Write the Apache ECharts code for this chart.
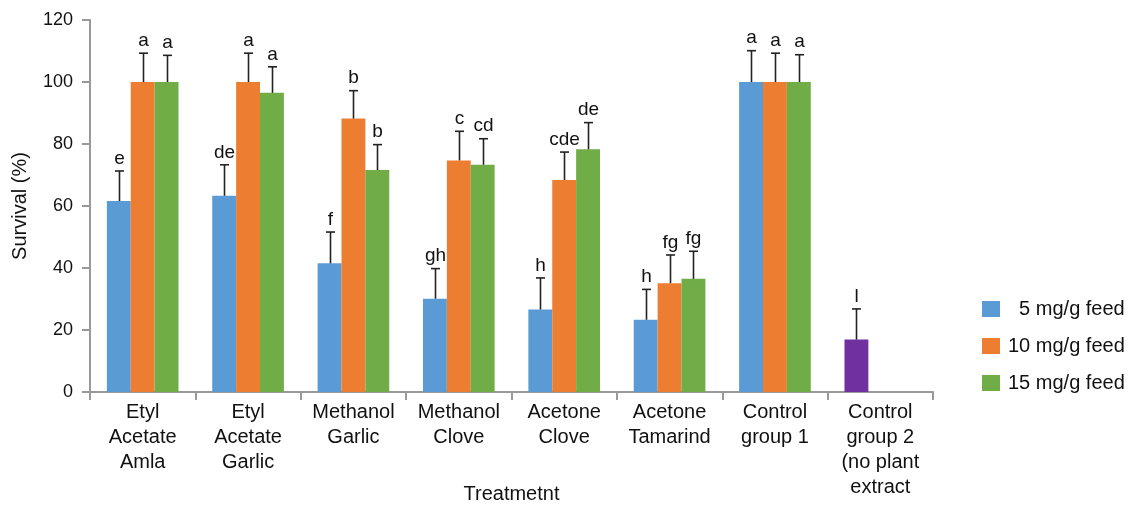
<!DOCTYPE html>
<html><head><meta charset="utf-8">
<script src="https://cdn.jsdelivr.net/npm/echarts@6/dist/echarts.min.js"></script>
<style>html,body{margin:0;padding:0;background:#fff}#c{width:1131px;height:505px}</style>
</head><body><div id="c"></div>
<script>
const categories = ['Etyl\nAcetate\nAmla', 'Etyl\nAcetate\nGarlic', 'Methanol\nGarlic', 'Methanol\nClove', 'Acetone\nClove', 'Acetone\nTamarind', 'Control\ngroup 1', 'Control\ngroup 2\n(no plant\nextract'];
const seriesNames = ['5 mg/g feed', '10 mg/g feed', '15 mg/g feed'];
const s5 = [61.6, 63.3, 41.5, 30.1, 26.6, 23.3, 100, 16.9];
const s10 = [100, 100, 88.2, 74.7, 68.4, 35.1, 100, null];
const s15 = [100, 96.5, 71.6, 73.3, 78.3, 36.5, 100, null];
const e5 = [9.7, 10.0, 10.1, 9.7, 10.2, 9.8, 10.1, 9.9];
const e10 = [9.3, 9.3, 9.0, 9.4, 9.0, 9.1, 9.3, null];
const e15 = [8.6, 8.4, 8.2, 8.4, 8.6, 8.9, 8.8, null];
const l5 = ['e', 'de', 'f', 'gh', 'h', 'h', 'a', 'l'];
const l10 = ['a', 'a', 'b', 'c', 'cde', 'fg', 'a', ''];
const l15 = ['a', 'a', 'b', 'cd', 'de', 'fg', 'a', ''];
const yTicks = [0, 20, 40, 60, 80, 100, 120];

const colors = ['#5B9BD5', '#ED7D31', '#70AD47'];
const purple = '#7030A0';
const FONT = 'Liberation Sans, Arial, sans-serif';
const gapRatio = 0.32;

const values = [s5, s10, s15];
const errs = [e5, e10, e15];
const letters = [l5, l10, l15];

const series = [];
values.forEach((vals, i) => {
  series.push({
    name: seriesNames[i], type: 'bar',
    barGap: '0%', barCategoryGap: (gapRatio * 100) + '%',
    itemStyle: { color: colors[i] },
    data: vals.map((v, k) => (i === 0 && k === 7) ? { value: v, itemStyle: { color: purple } } : v),
    z: 2
  });
});
values.forEach((vals, i) => {
  const data = [];
  vals.forEach((v, k) => { if (v != null && errs[i][k] != null) data.push([k, v, v + errs[i][k], letters[i][k]]); });
  series.push({
    type: 'custom', z: 5, silent: true,
    renderItem: function (params, api) {
      const k = api.value(0), v = api.value(1), top = api.value(2);
      const lbl = data[params.dataIndex][3];
      const p0 = api.coord([k, v]);
      const p1 = api.coord([k, top]);
      const band = api.size([1, 0])[0];
      const bw = band * (1 - gapRatio) / 3;
      const cx = Math.round(p0[0] + (i - 1) * bw) + 0.5;
      return {
        type: 'group', children: [
          { type: 'line', shape: { x1: cx, y1: p0[1], x2: cx, y2: p1[1] }, style: { stroke: '#222', lineWidth: 1.6 } },
          { type: 'line', shape: { x1: cx - 4.5, y1: p1[1], x2: cx + 4.5, y2: p1[1] }, style: { stroke: '#222', lineWidth: 1.6 } },
          { type: 'text', x: cx, y: p1[1] - 3, style: { text: lbl, fill: '#111', font: '19px ' + FONT, textAlign: 'center', textVerticalAlign: 'bottom' } }
        ]
      };
    },
    encode: { x: 0, y: 2 },
    data: data
  });
});

const chart = echarts.init(document.getElementById('c'), null, { renderer: 'canvas' });
chart.setOption({
  animation: false,
  textStyle: { fontFamily: FONT },
  grid: { left: 90, right: 198, top: 20, bottom: 113, containLabel: false, outerBoundsMode: 'none' },
  legend: {
    orient: 'vertical', left: 977, top: 294,
    itemWidth: 18, itemHeight: 16, itemGap: 17,
    icon: 'rect',
    data: seriesNames,
    formatter: n => n.charAt(0) === '5' ? '  ' + n : n,
    textStyle: { fontSize: 20, color: '#111', fontFamily: FONT, padding: [0, 0, 0, 3] }
  },
  xAxis: {
    type: 'category', data: categories,
    name: 'Treatmetnt', nameLocation: 'middle', nameGap: 92, nameMoveOverlap: false,
    nameTextStyle: { fontSize: 20, color: '#111', fontFamily: FONT },
    axisLine: { lineStyle: { color: '#999', width: 2 } },
    axisTick: { show: true, length: 8, lineStyle: { color: '#999', width: 2 } },
    axisLabel: { fontSize: 20, color: '#111', lineHeight: 25, margin: 8, interval: 0, fontFamily: FONT }
  },
  yAxis: {
    type: 'value', min: 0, max: 120, interval: 20,
    name: 'Survival (%)', nameLocation: 'middle', nameGap: 60, nameMoveOverlap: false,
    nameTextStyle: { fontSize: 20, color: '#111', fontFamily: FONT },
    axisLine: { show: true, lineStyle: { color: '#999', width: 2 } },
    axisTick: { show: true, length: 8, lineStyle: { color: '#999', width: 2 } },
    splitLine: { show: false },
    axisLabel: { fontSize: 18, color: '#111', margin: 17, fontFamily: FONT, formatter: v => yTicks.indexOf(v) >= 0 ? String(v) : '' }
  },
  series: series
});
</script></body></html>
